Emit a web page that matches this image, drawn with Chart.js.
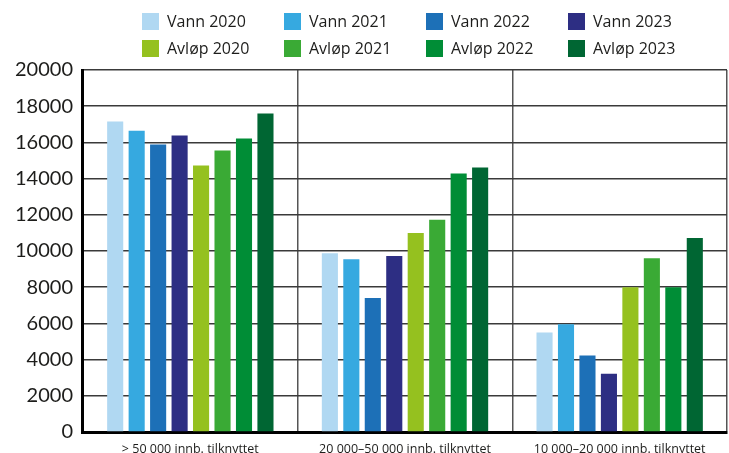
<!DOCTYPE html>
<html>
<head>
<meta charset="utf-8">
<script src="https://cdn.jsdelivr.net/npm/chart.js@4.4.0/dist/chart.umd.min.js"></script>
<style>
  html, body { margin: 0; padding: 0; width: 729px; height: 453px; overflow: hidden; background: #fff; }
  #wrap { position: relative; width: 729px; height: 467px; }
  #legend { position: absolute; left: 142px; top: 12px; display: grid; grid-template-columns: repeat(4, 142px); row-gap: 9px; }
  .item { display: flex; align-items: center; height: 18px; font-family: "Open Sans", sans-serif; font-size: 16px; color: #1d1d1b; white-space: nowrap; }
  .box { width: 17px; height: 17px; margin-right: 8px; flex: none; }
</style>
</head>
<body>
<div id="wrap">
  <canvas id="chart" width="729" height="467"></canvas>
  <div id="legend"></div>
</div>
<script>
// --- Data ---
const categories = ['> 50 000 innb. tilknyttet', '20 000\u201350 000 innb. tilknyttet', '10 000\u201320 000 innb. tilknyttet'];

const vann2020 = [17150, 9880, 5500];
const vann2021 = [16650, 9550, 5950];
const vann2022 = [15880, 7400, 4220];
const vann2023 = [16380, 9720, 3220];
const avlop2020 = [14720, 11000, 8000];
const avlop2021 = [15550, 11720, 9600];
const avlop2022 = [16220, 14280, 8000];
const avlop2023 = [17600, 14620, 10720];

const yTicks = [0, 2000, 4000, 6000, 8000, 10000, 12000, 14000, 16000, 18000, 20000];

// series in legend order (row by row)
const series = [
    { label: 'Vann 2020', data: vann2020, color: '#b0d8f2' },
    { label: 'Vann 2021', data: vann2021, color: '#36a9e0' },
    { label: 'Vann 2022', data: vann2022, color: '#1d70b7' },
    { label: 'Vann 2023', data: vann2023, color: '#2d2e83' },
    { label: 'Avløp 2020', data: avlop2020, color: '#95c11f' },
    { label: 'Avløp 2021', data: avlop2021, color: '#3aaa35' },
    { label: 'Avløp 2022', data: avlop2022, color: '#008d36' },
    { label: 'Avløp 2023', data: avlop2023, color: '#006633' }
];

// --- Legend (two rows, four fixed columns) ---
const legendEl = document.getElementById('legend');
series.forEach(s => {
    const item = document.createElement('div');
    item.className = 'item';
    const box = document.createElement('span');
    box.className = 'box';
    box.style.background = s.color;
    item.appendChild(box);
    item.appendChild(document.createTextNode(s.label));
    legendEl.appendChild(item);
});

// --- Chart ---
new Chart(document.getElementById('chart'), {
    type: 'bar',
    data: {
        labels: categories,
        datasets: series.map(s => ({
            label: s.label,
            data: s.data,
            backgroundColor: s.color,
            borderWidth: 0,
            categoryPercentage: 0.8,
            barPercentage: 0.75
        }))
    },
    options: {
        responsive: false,
        animation: false,
        layout: { padding: { top: 70, left: 5, right: 2, bottom: 0 } },
        plugins: {
            legend: { display: false },
            tooltip: { enabled: false }
        },
        scales: {
            x: {
                grid: { offset: true, color: '#555', lineWidth: 1.5, drawTicks: false },
                border: { color: '#000', width: 3 },
                ticks: {
                    color: '#1d1d1b',
                    padding: 10,
                    maxRotation: 0,
                    font: { family: 'Open Sans', size: 12.5 }
                }
            },
            y: {
                min: 0,
                max: 20000,
                afterBuildTicks: axis => { axis.ticks = yTicks.map(v => ({ value: v })); },
                grid: { color: '#3a3a3a', lineWidth: 1.5, drawTicks: false },
                border: { color: '#000', width: 3 },
                ticks: {
                    color: '#1d1d1b',
                    padding: 10,
                    font: { family: 'Lato', size: 20 },
                    callback: v => String(v)
                }
            }
        }
    }
});
</script>
</body>
</html>
